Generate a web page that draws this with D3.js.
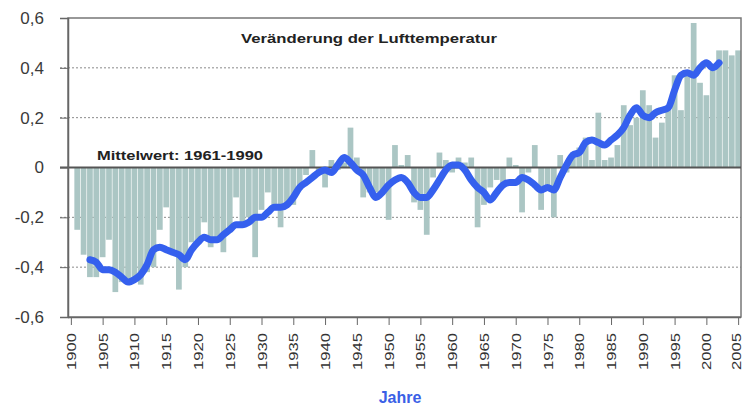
<!DOCTYPE html>
<html><head><meta charset="utf-8">
<script src="https://cdn.jsdelivr.net/npm/d3@7"></script>
<style>body{margin:0;background:#fff}svg{display:block}</style>
</head><body>
<svg id="c" width="744" height="406"></svg>
<script>
const years = d3.range(1900, 2006);
const barYears = d3.range(1901, 2006);
const barValues = [
 -0.25,-0.35,-0.44,-0.44,-0.36,-0.29,-0.50,-0.46,-0.47,-0.45,
 -0.47,-0.42,-0.40,-0.25,-0.16,-0.33,-0.49,-0.40,-0.30,-0.30,
 -0.22,-0.32,-0.28,-0.34,-0.26,-0.12,-0.22,-0.20,-0.36,-0.17,
 -0.10,-0.15,-0.24,-0.15,-0.15,-0.09,-0.03,0.07,-0.02,-0.08,
 0.03,-0.01,0.02,0.16,0.04,-0.12,-0.10,-0.10,-0.11,-0.21,
 0.09,0.01,0.05,-0.14,-0.17,-0.27,-0.04,0.06,0.03,-0.02,
 0.04,0.02,0.04,-0.24,-0.15,-0.08,-0.05,-0.08,0.04,0.01,
 -0.18,-0.02,0.09,-0.17,-0.08,-0.20,0.05,-0.02,0.06,0.08,
 0.12,0.03,0.22,0.03,0.04,0.09,0.25,0.17,0.20,0.31,
 0.25,0.12,0.18,0.23,0.37,0.23,0.39,0.58,0.34,0.29,
 0.41,0.47,0.47,0.45,0.47
];
const lineYears = d3.range(1903, 2003);
const lineValues = [
 -0.37,-0.38,-0.41,-0.41,-0.42,-0.44,-0.46,-0.45,-0.43,-0.39,
 -0.33,-0.32,-0.33,-0.34,-0.35,-0.37,-0.33,-0.30,-0.28,-0.29,
 -0.29,-0.27,-0.25,-0.23,-0.23,-0.22,-0.20,-0.20,-0.18,-0.16,
 -0.16,-0.15,-0.12,-0.08,-0.06,-0.04,-0.02,-0.01,-0.02,0.01,
 0.04,0.02,-0.01,-0.03,-0.08,-0.12,-0.10,-0.07,-0.05,-0.04,
 -0.06,-0.10,-0.12,-0.12,-0.09,-0.05,-0.01,0.01,0.01,-0.01,
 -0.05,-0.08,-0.10,-0.13,-0.10,-0.07,-0.06,-0.06,-0.04,-0.05,
 -0.07,-0.09,-0.08,-0.09,-0.04,0.01,0.05,0.06,0.10,0.11,
 0.10,0.09,0.11,0.13,0.16,0.21,0.24,0.21,0.20,0.22,
 0.23,0.24,0.31,0.37,0.38,0.37,0.40,0.42,0.40,0.42
];
const yTicks = [-0.6,-0.4,-0.2,0,0.2,0.4,0.6];
const xTicks = d3.range(1900, 2006, 5);
const title = "Veränderung der Lufttemperatur";
const refLabel = "Mittelwert: 1961-1990";
const xTitle = "Jahre";

const svg = d3.select("#c");
const L = 68, R = 741, T = 18, B = 317;
const x = d3.scaleBand().domain(years).range([L, R]).paddingInner(0.1).paddingOuter(0);
const xc = d => x(d) + x.bandwidth() / 2;
const y = d3.scaleLinear().domain([-0.6, 0.6]).range([B, T]);
const fmt = d => d === 0 ? "0" : d3.format(".1f")(d).replace(".", ",").replace("−", "-");
const font = "Arial, Liberation Sans, sans-serif";

// grid
svg.append("g").selectAll("line").data(yTicks.filter(d => d !== 0 && Math.abs(d) !== 0.6)).join("line")
  .attr("x1", 60).attr("x2", R).attr("y1", d => y(d)).attr("y2", d => y(d))
  .attr("stroke", "#8a8a8a").attr("stroke-width", 1).attr("stroke-dasharray", "2,2");

// bars
svg.append("g").selectAll("rect").data(barYears).join("rect")
  .attr("x", d => x(d)).attr("width", x.bandwidth())
  .attr("y", (d, i) => Math.min(y(0), y(barValues[i])))
  .attr("height", (d, i) => Math.abs(y(barValues[i]) - y(0)))
  .attr("fill", "#abc6c4");

// frame
svg.append("rect").attr("x", L).attr("y", T).attr("width", R - L).attr("height", B - T)
  .attr("fill", "none").attr("stroke", "#777").attr("stroke-width", 1.5);

// zero line
svg.append("line").attr("x1", 60).attr("x2", R).attr("y1", y(0)).attr("y2", y(0))
  .attr("stroke", "#555").attr("stroke-width", 2);

// y axis
const ya = svg.append("g").attr("transform", `translate(${L},0)`)
  .call(d3.axisLeft(y).tickValues(yTicks).tickFormat(fmt).tickSize(8).tickPadding(16));
ya.select(".domain").attr("stroke", "#666").attr("stroke-width", 1.5);
ya.selectAll(".tick line").attr("stroke", "#666");
ya.selectAll("text").attr("font-family", font).attr("font-size", 17).attr("fill", "#3a3a3a");

// x axis
const xa = svg.append("g").attr("transform", `translate(0,${B})`)
  .call(d3.axisBottom(d3.scaleLinear().domain([1900, 2005]).range([xc(1900), xc(2005)]))
    .tickValues(xTicks).tickFormat(d => String(d)).tickSize(8));
xa.select(".domain").attr("stroke", "#666").attr("stroke-width", 1.5).attr("d", `M${L},0.5H${R}`);
xa.selectAll(".tick line").attr("stroke", "#666");
xa.selectAll("text")
  .attr("font-family", font).attr("font-size", 13).attr("fill", "#333")
  .attr("transform", "rotate(-90)").attr("text-anchor", "end").attr("dy", "0.35em")
  .attr("x", -16).attr("y", d => d === 2005 ? -2 : 0)
  .attr("textLength", 37).attr("lengthAdjust", "spacingAndGlyphs");

// smoothed line
svg.append("path").datum(lineYears)
  .attr("d", d3.line().x(d => xc(d)).y((d, i) => y(lineValues[i])).curve(d3.curveMonotoneX))
  .attr("fill", "none").attr("stroke", "#3560ee").attr("stroke-width", 7)
  .attr("stroke-linecap", "round").attr("stroke-linejoin", "round");

// texts
svg.append("text").attr("x", 241).attr("y", 43).text(title)
  .attr("font-family", font).attr("font-weight", "bold")
  .attr("font-size", 12).attr("fill", "#222").attr("textLength", 256).attr("lengthAdjust", "spacingAndGlyphs");
svg.append("text").attr("x", 97).attr("y", 160).text(refLabel)
  .attr("font-family", font).attr("font-weight", "bold")
  .attr("font-size", 12).attr("fill", "#222").attr("textLength", 166).attr("lengthAdjust", "spacingAndGlyphs");
svg.append("text").attr("x", 400).attr("y", 403).attr("text-anchor", "middle").text(xTitle)
  .attr("font-family", font).attr("font-weight", "bold")
  .attr("font-size", 16).attr("fill", "#3a5fe6");
</script>
</body></html>
